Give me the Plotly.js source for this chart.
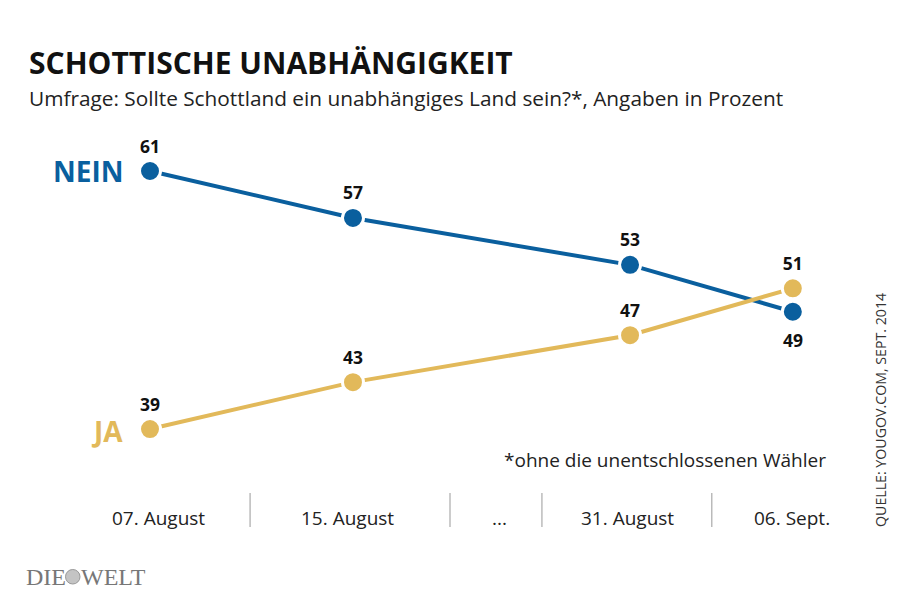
<!DOCTYPE html>
<html><head><meta charset="utf-8">
<script src="https://cdn.plot.ly/plotly-3.0.1.min.js"></script>
<style>html,body{margin:0;padding:0;background:#fff}#chart{width:900px;height:599px}</style>
</head><body><div id="chart"></div>
<script>
// Data
var dates = ["07. August", "15. August", "...", "31. August", "06. Sept."];
var datePos = [0.04, 0.975, 1.724, 2.35, 3.163];   // label slot positions on x axis
var pointPos = [0, 1, 2.365, 3.167];               // survey dates on x axis (07.08, 15.08, 31.08, 06.09)
var separatorPos = [0.493, 1.478, 1.931, 2.768];
var nein = [61, 57, 53, 49];
var ja = [39, 43, 47, 51];
var seriesNames = ["NEIN", "JA"];
var blue = "#0a5f9e", gold = "#e2b95a";

var last = nein.length - 1;
var traces = [
  {x: pointPos, y: nein, mode: "lines+markers+text", name: seriesNames[0],
   line: {color: blue, width: 4},
   marker: {color: blue, size: 21, line: {color: "#fff", width: 3}},
   text: nein.map(function (v, i) { return i === last ? "" : String(v); }), textposition: "top center",
   textfont: {family: "Open Sans", size: 17.5, color: "#111", weight: 700},
   cliponaxis: false, hoverinfo: "none"},
  {x: pointPos, y: ja, mode: "lines+markers+text", name: seriesNames[1],
   line: {color: gold, width: 4},
   marker: {color: gold, size: 21, line: {color: "#fff", width: 3}},
   text: ja.map(String), textposition: "top center",
   textfont: {family: "Open Sans", size: 17.5, color: "#111", weight: 700},
   cliponaxis: false, hoverinfo: "none"}
];

var ann = [
  {xref: "paper", yref: "paper", x: 27/900, y: 1-62/599, xanchor: "left", yanchor: "middle", showarrow: false,
   text: "<b>SCHOTTISCHE UNABHÄNGIGKEIT</b>", font: {family: "Open Sans", size: 30, color: "#111"}},
  {xref: "paper", yref: "paper", x: 27/900, y: 1-98/599, xanchor: "left", yanchor: "middle", showarrow: false,
   text: "Umfrage: Sollte Schottland ein unabhängiges Land sein?*, Angaben in Prozent", font: {family: "Open Sans", size: 20.8, color: "#222"}},
  {x: pointPos[0], y: nein[0], xanchor: "right", xshift: -25, yanchor: "middle", showarrow: false,
   text: "<b>" + seriesNames[0] + "</b>", font: {family: "Open Sans", size: 28, color: blue}},
  {x: pointPos[0], y: ja[0], xanchor: "right", xshift: -25, yanchor: "middle", yshift: -2, showarrow: false,
   text: "<b>" + seriesNames[1] + "</b>", font: {family: "Open Sans", size: 28, color: gold}},
  {x: pointPos[last], y: nein[last], xanchor: "center", yanchor: "middle", yshift: -28, showarrow: false,
   text: "<b>" + nein[last] + "</b>", font: {family: "Open Sans", size: 17.5, color: "#111"}},
  {xref: "paper", yref: "paper", x: 828/900, y: 1-460/599, xanchor: "right", yanchor: "middle", showarrow: false,
   text: "*ohne die unentschlossenen Wähler", font: {family: "Open Sans", size: 19, color: "#222"}},
  {xref: "paper", yref: "paper", x: 880/900, y: 1-410/599, xanchor: "center", yanchor: "middle", showarrow: false, textangle: -90,
   text: "QUELLE: YOUGOV.COM, SEPT. 2014", font: {family: "Open Sans", size: 14.2, color: "#333"}},
  {xref: "paper", yref: "paper", x: 24/900, y: 1-577/599, xanchor: "left", yanchor: "middle", showarrow: false,
   text: "DIE", font: {family: "Liberation Serif", size: 24, color: "#777"}},
  {xref: "paper", yref: "paper", x: 79/900, y: 1-577/599, xanchor: "left", yanchor: "middle", showarrow: false,
   text: "WELT", font: {family: "Liberation Serif", size: 24, color: "#777"}}
];
dates.forEach(function (d, i) {
  ann.push({x: datePos[i], yref: "paper", y: 1-518/599, xanchor: "center", yanchor: "middle", showarrow: false,
    text: d, font: {family: "Open Sans", size: 19, color: "#222"}});
});

var shapes = separatorPos.map(function (s) {
  return {type: "line", x0: s, x1: s, yref: "paper", y0: 1-493/599, y1: 1-527/599, line: {color: "#999", width: 1}};
});
shapes.push({type: "circle", xref: "paper", yref: "paper", x0: 65.5/900, x1: 80/900, y0: 1-584/599, y1: 1-569.5/599,
  fillcolor: "#c4c4c4", line: {color: "#999", width: 1}});

var layout = {
  width: 900, height: 599, margin: {l: 0, r: 0, t: 0, b: 0},
  paper_bgcolor: "#fff", plot_bgcolor: "#fff", showlegend: false,
  xaxis: {range: [-0.739, 3.695], visible: false, fixedrange: true},
  yaxis: {range: [24.51, 75.58], visible: false, fixedrange: true},
  annotations: ann, shapes: shapes
};
Plotly.newPlot("chart", traces, layout, {staticPlot: true});
</script></body></html>
